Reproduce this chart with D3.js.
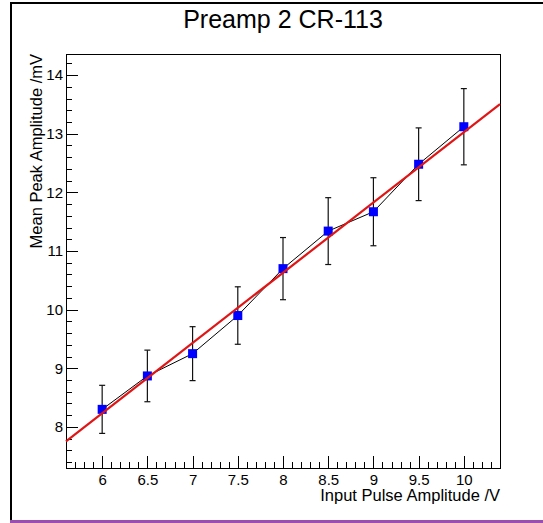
<!DOCTYPE html>
<html>
<head>
<meta charset="utf-8">
<script src="https://cdn.jsdelivr.net/npm/d3@7"></script>
<style>
  html, body { margin: 0; padding: 0; background: #fff; }
  svg { display: block; }
  text { font-family: "Liberation Sans", Arial, Helvetica, sans-serif; fill: #000; }
</style>
</head>
<body>
<svg id="chart" width="543" height="523"></svg>
<script>
// ---- data ----
const inputPulse = [6, 6.5, 7, 7.5, 8, 8.5, 9, 9.5, 10];
const meanPeak   = [8.30, 8.87, 9.25, 9.90, 10.70, 11.34, 11.67, 12.48, 13.12];
const peakError  = [0.41, 0.44, 0.46, 0.49, 0.53, 0.57, 0.58, 0.62, 0.65];
const fitParams  = [1.046, 1.198];   // intercept, slope
const xMajorTicks = [6, 6.5, 7, 7.5, 8, 8.5, 9, 9.5, 10];
const yMajorTicks = [8, 9, 10, 11, 12, 13, 14];
const xDomain = [5.6, 10.4];
const yDomain = [7.3, 14.36];
const titleText = "Preamp 2 CR-113";
const xTitle = "Input Pulse Amplitude /V";
const yTitle = "Mean Peak Amplitude /mV";

const svg = d3.select("#chart");
const L = 66, R = 500, T = 54, B = 468;

const x = d3.scaleLinear().domain(xDomain).range([L, R]);
const y = d3.scaleLinear().domain(yDomain).range([B, T]);

// window frame
svg.append("line").attr("x1", 11).attr("x2", 543).attr("y1", 3).attr("y2", 3)
  .attr("stroke", "#000").attr("stroke-width", 2);
svg.append("line").attr("x1", 11).attr("x2", 11).attr("y1", 2).attr("y2", 522)
  .attr("stroke", "#000").attr("stroke-width", 2);
svg.append("line").attr("x1", 10).attr("x2", 543).attr("y1", 521.5).attr("y2", 521.5)
  .attr("stroke", "#9a4fae").attr("stroke-width", 3);

// title
svg.append("text").attr("x", 283).attr("y", 28).attr("text-anchor", "middle")
  .style("font-size", "25px").text(titleText);

// frame
svg.append("rect").attr("x", L).attr("y", T).attr("width", R - L).attr("height", B - T)
  .attr("fill", "none").attr("stroke", "#000").attr("stroke-width", 1)
  .attr("shape-rendering", "crispEdges");

// minor ticks
const xMinor = d3.range(57, 104).map(d => d / 10).filter(v => !xMajorTicks.some(m => Math.abs(m - v) < 1e-6));
const yMinor = d3.range(37, 72).map(d => d / 5).filter(v => v > yDomain[0] && v < yDomain[1] && !yMajorTicks.some(m => Math.abs(m - v) < 1e-6));

const gx = svg.append("g").attr("transform", `translate(0,${B})`);
gx.call(d3.axisBottom(x).tickValues(xMajorTicks).tickSize(-12).tickPadding(6).tickSizeOuter(0)
  .tickFormat(d3.format("")));
gx.append("g").call(d3.axisBottom(x).tickValues(xMinor).tickSize(-6).tickSizeOuter(0).tickFormat(""));
gx.selectAll(".domain").attr("stroke", "#000");
gx.selectAll("line").attr("stroke", "#000").attr("shape-rendering", "crispEdges");
gx.selectAll("text").style("font-size", "15px").style("font-family", "'Liberation Sans', Arial, sans-serif").attr("fill", "#000");

const gy = svg.append("g").attr("transform", `translate(${L},0)`);
gy.call(d3.axisLeft(y).tickValues(yMajorTicks).tickSize(-12).tickPadding(3).tickSizeOuter(0)
  .tickFormat(d3.format("d")));
gy.append("g").call(d3.axisLeft(y).tickValues(yMinor).tickSize(-6).tickSizeOuter(0).tickFormat(""));
gy.selectAll(".domain").attr("stroke", "#000");
gy.selectAll("line").attr("stroke", "#000").attr("shape-rendering", "crispEdges");
gy.selectAll("text").style("font-size", "15px").style("font-family", "'Liberation Sans', Arial, sans-serif").attr("fill", "#000");

// axis titles
svg.append("text").attr("x", 500).attr("y", 501).attr("text-anchor", "end")
  .style("font-size", "16.5px").text(xTitle);
svg.append("text").attr("transform", `translate(42,${T}) rotate(-90)`).attr("text-anchor", "end")
  .style("font-size", "16.5px").text(yTitle);

// data
const pts = inputPulse.map((v, i) => ({ x: v, y: meanPeak[i], e: peakError[i] }));
const plot = svg.append("g");

// error bars
const eb = plot.selectAll(".eb").data(pts).enter().append("g").attr("class", "eb")
  .attr("stroke", "#111").attr("stroke-width", 1.2);
eb.append("line").attr("x1", d => x(d.x)).attr("x2", d => x(d.x))
  .attr("y1", d => y(d.y - d.e)).attr("y2", d => y(d.y + d.e));
eb.append("line").attr("x1", d => x(d.x) - 3).attr("x2", d => x(d.x) + 3)
  .attr("y1", d => y(d.y + d.e)).attr("y2", d => y(d.y + d.e));
eb.append("line").attr("x1", d => x(d.x) - 3).attr("x2", d => x(d.x) + 3)
  .attr("y1", d => y(d.y - d.e)).attr("y2", d => y(d.y - d.e));

// connecting line
plot.append("path").datum(pts)
  .attr("d", d3.line().x(d => x(d.x)).y(d => y(d.y)))
  .attr("fill", "none").attr("stroke", "#000").attr("stroke-width", 1);

// markers
plot.selectAll(".mk").data(pts).enter().append("rect").attr("class", "mk")
  .attr("x", d => x(d.x) - 4.5).attr("y", d => y(d.y) - 4.5)
  .attr("width", 9).attr("height", 9).attr("fill", "#0000ff");

// fit line
const fitX = xDomain;
plot.append("path").datum(fitX.map(v => ({ x: v, y: fitParams[0] + fitParams[1] * v })))
  .attr("d", d3.line().x(d => x(d.x)).y(d => y(d.y)))
  .attr("fill", "none").attr("stroke", "#e01515").attr("stroke-width", 2.2);
</script>
</body>
</html>
